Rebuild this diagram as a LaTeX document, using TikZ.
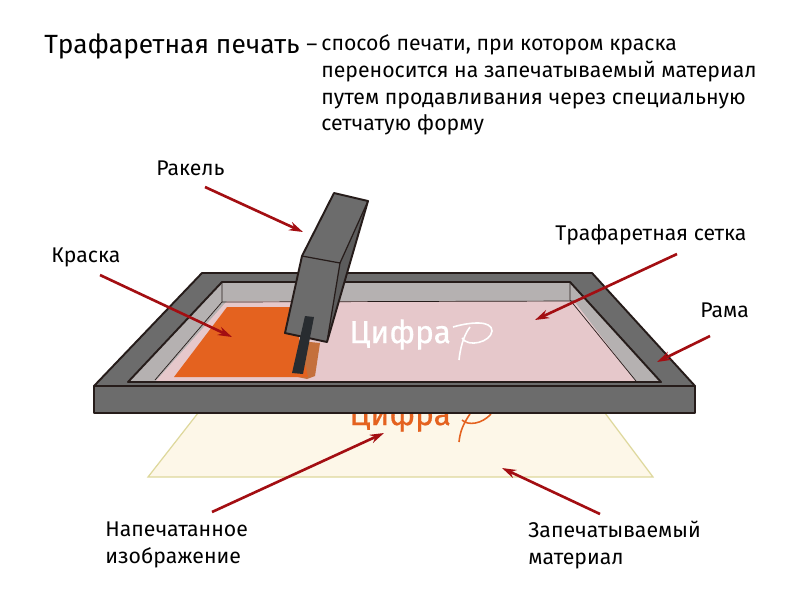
\documentclass[tikz,border=0pt]{standalone}
\usepackage{fontspec}
\setmainfont{Fira Sans}
\usepackage{tikz}
\usetikzlibrary{arrows.meta}
\definecolor{framegray}{RGB}{108,108,108}
\definecolor{wallgray}{RGB}{181,177,177}
\definecolor{meshpink}{RGB}{230,200,203}
\definecolor{inkorange}{RGB}{228,98,31}
\definecolor{stainbrown}{RGB}{196,112,60}
\definecolor{papercream}{RGB}{253,247,232}
\definecolor{paperedge}{RGB}{222,216,156}
\definecolor{arrowred}{RGB}{163,14,18}
\definecolor{edgedark}{RGB}{38,28,26}
\definecolor{bladedark}{RGB}{40,44,48}
\tikzset{
  label/.style={inner sep=0pt, font=\fontsize{12.1}{15.2}\selectfont, align=left, text=black},
  wordmark/.style={inner sep=0pt, anchor=base west, font=\fontsize{18}{20}\selectfont\addfontfeature{FakeBold=0.6}},
  pointer/.style={draw=arrowred, line width=1.5pt, -{Stealth[length=8pt,width=5pt]}},
  edge/.style={draw=edgedark, line width=1.1pt, line join=round}
}
\begin{document}
\begin{tikzpicture}[x=0.02cm,y=-0.02cm]
    \useasboundingbox (0,0) rectangle (800,600);

    % Paper with printed image
    \fill[papercream] (198,413) -- (605,413) -- (653,477) -- (148,477) -- cycle;
    \draw[paperedge, line width=0.7pt] (198,413) -- (148,477) -- (653,477) -- (605,413);
    \node[wordmark, text=inkorange] (printed) at (349,425) {Цифра};
    \draw[inkorange, line width=0.9pt] (459,442) .. controls (460,432) and (463,424) .. (470,414) (462,420) .. controls (468,426) and (482,424) .. (491,414);

    % Frame
    \fill[framegray] (202,273) -- (592,273) -- (695,386) -- (695,413) -- (94,413) -- (94,386) -- cycle;
    \fill[wallgray] (222,282) -- (570,282) -- (661,382) -- (128,382) -- cycle;
    \fill[meshpink] (227,301) -- (574,301) -- (636,382) -- (155,382) -- cycle;
    \draw[edge] (202,273) -- (592,273) -- (695,386) -- (695,413) -- (94,413) -- (94,386) -- cycle;
    \draw[edge, line width=0.7pt] (94,386) -- (695,386);
    \draw[edge] (222,282) -- (570,282) -- (661,382) -- (128,382) -- cycle;
    \draw[edge, line width=0.4pt] (222,282) -- (222,302) -- (155,380);
    \draw[edge, line width=0.4pt] (570,282) -- (570,300) -- (636,381);
    \draw[edge, line width=0.4pt] (222,302) -- (574,301);

    % Ink
    \fill[stainbrown] (290,340) -- (320,343) -- (315,376) -- (307,379) -- (298,377) -- cycle;
    \fill[inkorange] (227,307) -- (292,307) -- (308,377) -- (174,377) -- cycle;
    \node[wordmark, text=white] (watermark) at (349,343) {Цифра};
    \draw[white, line width=0.9pt] (459,360) .. controls (460,350) and (463,336) .. (470,327) (453,327) .. controls (470,322) and (492,320) .. (492,331) .. controls (491,342) and (468,348) .. (462,338);

    % Squeegee
    \fill[framegray] (334,193) -- (368,201) -- (340,263) -- (302,256) -- cycle;
    \fill[framegray] (302,256) -- (340,263) -- (327,342) -- (285,333) -- cycle;
    \fill[framegray!85!black] (340,263) -- (368,201) -- (327,342) -- cycle;
    \draw[edge] (334,193) -- (368,201) -- (327,342) -- (285,333) -- (302,256) -- cycle;
    \draw[edge, line width=0.7pt] (302,256) -- (340,263) -- (368,201);
    \draw[edge, line width=0.7pt] (340,263) -- (327,342);
    \fill[bladedark] (305,316) -- (314,317) -- (303,374) -- (292,373) -- cycle;

    % Texts
    \node[label, anchor=base west, font=\fontsize{15}{17}\selectfont] (title) at (44,53) {Трафаретная печать};
    \node[label, anchor=base west] (dash) at (306,51) {–};
    \node[label, anchor=west] (definition) at (321,85) {способ печати, при котором краска\\
      переносится на запечатываемый материал\\
      путем продавливания через специальную\\
      сетчатую форму};
    \node[label, anchor=west] (squeegee) at (156,168) {Ракель};
    \node[label, anchor=west] (paint) at (51,257) {Краска};
    \node[label, anchor=west] (mesh) at (555,235) {Трафаретная сетка};
    \node[label, anchor=west] (rama) at (700,310) {Рама};
    \node[label, anchor=west] (image) at (105,545) {Напечатанное\\изображение};
    \node[label, anchor=west] (stock) at (528,545) {Запечатываемый\\материал};

    % Pointers
    \foreach \n/\xa/\ya/\xb/\yb in {a/205/187/303/232, b/100/275/232/337, c/677/254/535/320, d/710/336/657/362, e/212/512/384/433, f/600/514/502/468} {
      \coordinate (from\n) at (\xa,\ya);
      \coordinate (to\n) at (\xb,\yb);
      \draw[pointer] (from\n) -- (to\n);
    }
\end{tikzpicture}
\end{document}
